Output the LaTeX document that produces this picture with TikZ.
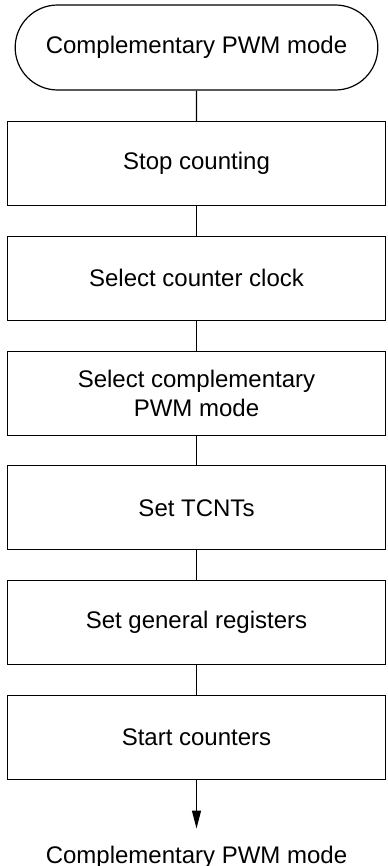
\documentclass[tikz,border=0pt]{standalone}
\usepackage{fontspec}
\setmainfont{Liberation Sans}
\usetikzlibrary{shapes.misc, arrows.meta, positioning}
\tikzset{
  term/.style={rounded rectangle, draw, line width=0.6pt,
               minimum width=188pt, minimum height=42.5pt,
               font=\fontsize{12}{14.5}\selectfont},
  proc/.style={rectangle, draw, line width=0.6pt,
               minimum width=189pt, minimum height=42pt,
               align=center, font=\fontsize{12}{14.5}\selectfont},
  link/.style={line width=0.6pt},
  arr/.style={-{Triangle[length=9pt, width=4.5pt]}, line width=0.6pt},
}

\begin{document}
\begin{tikzpicture}[x=0.5pt, y=-0.5pt, node distance=14.75pt]
  \useasboundingbox (0,0) rectangle (387,866);
  \node[term] (start) at (196.5,47.5) {Complementary PWM mode};
  \node[proc, below=15.25pt of start] (stop) {Stop counting};
  \node[proc, below=of stop] (clock) {Select counter clock};
  \node[proc, below=of clock] (mode) {Select complementary\\PWM mode};
  \node[proc, below=of mode] (tcnt) {Set TCNTs};
  \node[proc, below=of tcnt] (regs) {Set general registers};
  \node[proc, below=of regs] (go) {Start counters};
  \node[anchor=base, font=\fontsize{12}{14.5}\selectfont] (end) at (196.5,863) {Complementary PWM mode};
  % connectors
  \draw[link] (start) -- (stop);
  \draw[link] (stop) -- (clock);
  \draw[link] (clock) -- (mode);
  \draw[link] (mode) -- (tcnt);
  \draw[link] (tcnt) -- (regs);
  \draw[link] (regs) -- (go);
  \draw[arr, shorten >=5pt] (go) -- (end);
\end{tikzpicture}
\end{document}
